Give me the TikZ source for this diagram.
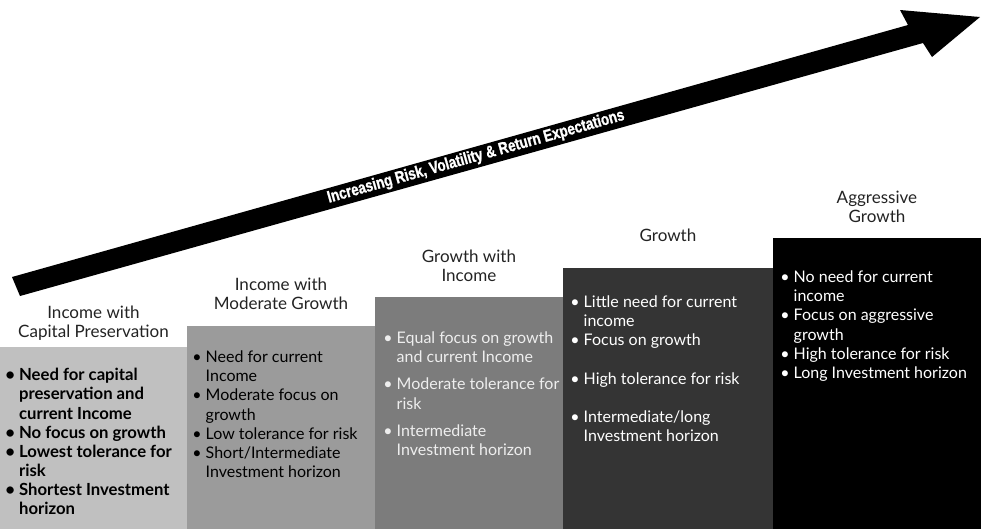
\documentclass[tikz,border=0pt]{standalone}
\usepackage{fontspec}
\setmainfont{Lato}
\newfontfamily\arrowfont[FakeStretch=0.80, FakeBold=1.2]{Liberation Sans}
\usetikzlibrary{positioning}
\definecolor{paleGray}{RGB}{192,192,192}
\definecolor{midGray}{RGB}{155,155,155}
\definecolor{darkGray}{RGB}{124,124,124}
\definecolor{charcoal}{RGB}{52,52,52}
\definecolor{titleGray}{RGB}{35,35,35}
\definecolor{softWhite}{RGB}{238,238,238}

\newcommand{\itm}{\textbullet\ }
\newcommand{\ind}{\hphantom{\textbullet\ }}

\tikzset{
  stepbox/.style={anchor=south west, inner sep=0pt, outer sep=0pt},
  heading/.style={align=center, text=titleGray, inner sep=0pt, font=\fontsize{9.7}{10.9}\selectfont},
  bullets/.style={align=left, inner sep=0pt, font=\fontsize{9.1}{10.9}\selectfont},
}

\begin{document}
\begin{tikzpicture}[x=0.02cm, y=-0.02cm]
    \useasboundingbox (0,0) rectangle (981,529);

    % the rising arrow
    \coordinate (tailTop) at (12,277);
    \coordinate (tailBot) at (20,296);
    \coordinate (neckTop) at (908,25);
    \coordinate (neckBot) at (923,43);
    \coordinate (barbTop) at (900,10);
    \coordinate (barbBot) at (932,57);
    \coordinate (tip) at (980,17);
    \fill[black] (tailTop) -- (neckTop) -- (barbTop) -- (tip) -- (barbBot) -- (neckBot) -- (tailBot) -- cycle;
    \node[rotate=15.7, text=white, inner sep=0pt, font=\arrowfont\bfseries\fontsize{9.5}{10}\selectfont] (arrowText) at (476,157) {Increasing Risk, Volatility \& Return Expectations};

    % the five steps
    \node[stepbox, fill=paleGray, minimum width=3.74cm, minimum height=3.64cm] (boxA) at (0,529) {};
    \node[stepbox, fill=midGray, minimum width=3.76cm, minimum height=4.06cm] (boxB) at (187,529) {};
    \node[stepbox, fill=darkGray, minimum width=3.76cm, minimum height=4.64cm] (boxC) at (375,529) {};
    \node[stepbox, fill=charcoal, minimum width=4.20cm, minimum height=5.22cm] (boxD) at (563,529) {};
    \node[stepbox, fill=black, minimum width=4.16cm, minimum height=5.82cm] (boxE) at (773,529) {};

    % headings
    \node[heading, above=0.12cm of boxA] (headA) {Income with\\Capital Preservation};
    \node[heading, above=0.32cm of boxB] (headB) {Income with\\Moderate Growth};
    \node[heading, above=0.30cm of boxC] (headC) {Growth with\\Income};
    \node[heading, above=0.52cm of boxD] (headD) {Growth};
    \node[heading, above=0.30cm of boxE] (headE) {Aggressive\\Growth};

    % bullet lists
    \node[bullets, font=\bfseries\fontsize{9.5}{10.9}\selectfont, below right=0.42cm and 0.10cm of boxA.north west] (listA) {
      \itm Need for capital\\ \ind preservation and\\ \ind current Income\\
      \itm No focus on growth\\
      \itm Lowest tolerance for\\ \ind risk\\
      \itm Shortest Investment\\ \ind horizon};
    \node[bullets, below right=0.49cm and 0.10cm of boxB.north west] (listB) {
      \itm Need for current\\ \ind Income\\
      \itm Moderate focus on\\ \ind growth\\
      \itm Low tolerance for risk\\
      \itm Short/Intermediate\\ \ind Investment horizon};
    \node[bullets, text=softWhite, below right=0.69cm and 0.16cm of boxC.north west] (listC) {
      \itm Equal focus on growth\\ \ind and current Income\\[4.5pt]
      \itm Moderate tolerance for\\ \ind risk\\[4.5pt]
      \itm Intermediate\\ \ind Investment horizon};
    \node[bullets, text=white, below right=0.55cm and 0.14cm of boxD.north west] (listD) {
      \itm Little need for current\\ \ind income\\
      \itm Focus on growth\\[10.9pt]
      \itm High tolerance for risk\\[10.9pt]
      \itm Intermediate/long\\ \ind Investment horizon};
    \node[bullets, text=white, below right=0.65cm and 0.14cm of boxE.north west] (listE) {
      \itm No need for current\\ \ind income\\
      \itm Focus on aggressive\\ \ind growth\\
      \itm High tolerance for risk\\
      \itm Long Investment horizon};
\end{tikzpicture}
\end{document}
